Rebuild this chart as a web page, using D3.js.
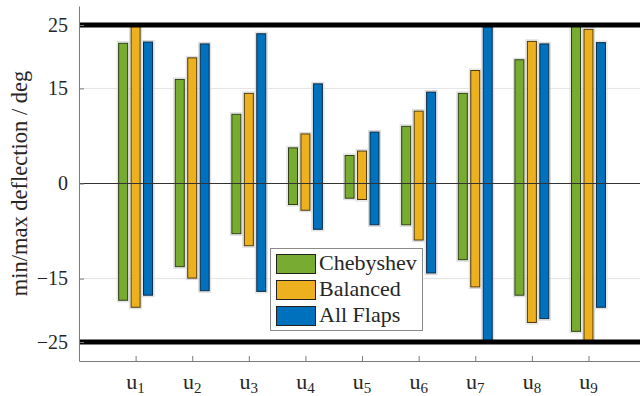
<!DOCTYPE html>
<html>
<head>
<meta charset="utf-8">
<script src="https://cdn.jsdelivr.net/npm/d3@7"></script>
</head>
<body style="margin:0;padding:0;background:#fff">
<svg id="chart" width="640" height="396" style="display:block"></svg>
<script>
// ---- data ----
const categories = ["1", "2", "3", "4", "5", "6", "7", "8", "9"];
const seriesNames = ["Chebyshev", "Balanced", "All Flaps"];
const seriesColors = ["#77AC30", "#EDB120", "#0072BD"];
const seriesStroke = ["#2b3d12", "#4a3606", "#0a2740"];
const chebyshevMax = [22.2, 16.5, 11.0, 5.7, 4.5, 9.1, 14.3, 19.6, 25];
const chebyshevMin = [-18.5, -13.2, -8.0, -3.4, -2.4, -6.6, -12.1, -17.7, -23.4];
const balancedMax  = [25, 19.9, 14.3, 7.9, 5.2, 11.5, 17.9, 22.5, 24.4];
const balancedMin  = [-19.6, -15.0, -9.9, -4.3, -2.6, -9.0, -16.4, -22.0, -25];
const allFlapsMax  = [22.4, 22.1, 23.7, 15.8, 8.2, 14.5, 25, 22.1, 22.3];
const allFlapsMin  = [-17.7, -17.0, -17.1, -7.3, -6.6, -14.2, -25, -21.4, -19.6];
const yTicks = [-25, -15, 0, 15, 25];
const gridValues = [-15, 15];
const limitValues = [-25, 25];
const yLabel = "min/max deflection / deg";

const seriesMax = [chebyshevMax, balancedMax, allFlapsMax];
const seriesMin = [chebyshevMin, balancedMin, allFlapsMin];

const FONT = "'Liberation Serif', 'Times New Roman', 'FreeSerif'";
const TXT = "#262626";
function serif(sel, size) {
  return sel.attr("font-family", "Liberation Serif").attr("font-size", size)
    .style("font-family", FONT).style("font-size", size + "px").style("fill", TXT);
}

// ---- layout ----
const svg = d3.select("#chart").style("font-family", FONT);
const mLeft = 79, mRight = 640, mTop = 6, mBottom = 361;
const x = d3.scaleLinear().domain([0, 9.91]).range([mLeft, mRight]);
const y = d3.scaleLinear().domain([-28, 28]).range([mBottom, mTop]);
const offsets = [-0.22, 0, 0.22];
const barW = x(0.177) - x(0);

// gridlines
svg.append("g").selectAll("line").data(gridValues).join("line")
  .attr("x1", mLeft).attr("x2", mRight)
  .attr("y1", d => y(d)).attr("y2", d => y(d))
  .attr("stroke", "#e3e3e3").attr("stroke-width", 1);

// bars
const barsG = svg.append("g");
seriesNames.forEach((name, s) => {
  const data = categories.map((c, i) => ({ i: i + 1, max: seriesMax[s][i], min: seriesMin[s][i] }));
  barsG.append("g").selectAll("rect").data(data).join("rect")
    .attr("x", d => x(d.i + offsets[s]) - barW / 2 - 1)
    .attr("y", d => y(d.max) - 1)
    .attr("width", barW + 2)
    .attr("height", d => y(d.min) - y(d.max) + 2)
    .attr("fill", "none").attr("stroke", "#dadada").attr("stroke-width", 1);
  barsG.append("g").selectAll("rect").data(data).join("rect")
    .attr("x", d => x(d.i + offsets[s]) - barW / 2 + 0.5)
    .attr("y", d => y(d.max) + 0.5)
    .attr("width", barW - 1)
    .attr("height", d => y(d.min) - y(d.max) - 1)
    .attr("fill", seriesColors[s])
    .attr("stroke", seriesStroke[s]).attr("stroke-width", 1);
});

// zero line
svg.append("line")
  .attr("x1", mLeft).attr("x2", mRight)
  .attr("y1", y(0)).attr("y2", y(0))
  .attr("stroke", "#333").attr("stroke-width", 1);

// thick limit lines
svg.append("g").selectAll("line").data(limitValues).join("line")
  .attr("x1", mLeft).attr("x2", mRight)
  .attr("y1", d => y(d)).attr("y2", d => y(d))
  .attr("stroke", "#000").attr("stroke-width", 5);

// y axis
const yAxis = d3.axisLeft(y).tickValues(yTicks).tickSizeInner(-5).tickSizeOuter(0)
  .tickPadding(11).tickFormat(d => d < 0 ? "\u2212" + Math.abs(d) : String(d));
const yg = svg.append("g").attr("transform", `translate(${mLeft},0)`).call(yAxis)
  .attr("font-family", "Liberation Serif");
yg.select(".domain").attr("stroke", "#7a7a7a");
yg.selectAll(".tick line").attr("stroke", "#7a7a7a");
serif(yg.selectAll(".tick text"), 20);

// x axis
const xAxis = d3.axisBottom(x).tickValues(categories.map(c => +c)).tickSizeInner(-5).tickSizeOuter(0).tickFormat("");
const xg = svg.append("g").attr("transform", `translate(0,${mBottom})`).call(xAxis);
xg.select(".domain").attr("stroke", "#7a7a7a");
xg.selectAll(".tick line").attr("stroke", "#7a7a7a");
const xl = svg.append("g");
categories.forEach((c, i) => {
  const t = serif(xl.append("text"), 22)
    .attr("x", x(i + 1)).attr("y", 389)
    .attr("text-anchor", "middle");
  t.append("tspan").text("u");
  t.append("tspan").attr("font-size", 15).style("font-size", "15px").attr("dy", 4).text(c);
});

// y label
serif(svg.append("text"), 22.5)
  .attr("transform", `translate(27,${(mTop + mBottom) / 2}) rotate(-90)`)
  .attr("text-anchor", "middle")
  .text(yLabel);

// legend
const lg = svg.append("g");
lg.append("rect").attr("x", 270.5).attr("y", 248.5).attr("width", 152).attr("height", 82)
  .attr("fill", "#fff").attr("stroke", "#8a8a8a").attr("stroke-width", 1);
seriesNames.forEach((name, s) => {
  const yy = 254 + s * 26;
  lg.append("rect").attr("x", 276.5).attr("y", yy + 0.5).attr("width", 39).attr("height", 19)
    .attr("fill", seriesColors[s]).attr("stroke", "#222").attr("stroke-width", 1);
  serif(lg.append("text"), 22).attr("x", 319).attr("y", yy + 16).text(name);
});
</script>
</body>
</html>
